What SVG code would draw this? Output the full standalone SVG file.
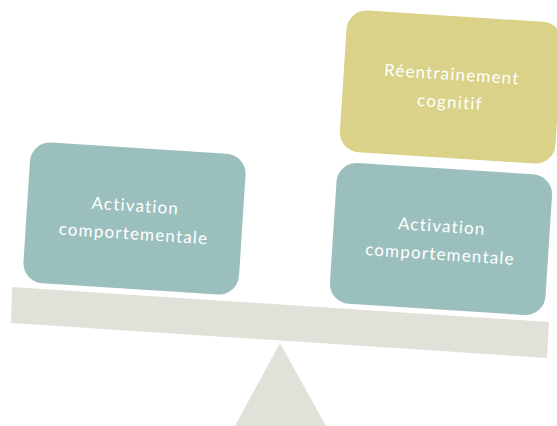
<svg xmlns="http://www.w3.org/2000/svg" width="557" height="426" viewBox="0 0 557 426">
<style>
.box{stroke:none}
.teal{fill:#9bbfbd}
.olive{fill:#d9d288}
.lbl{fill:#ffffff;font-family:Lato,"Open Sans",sans-serif;font-size:17px;text-anchor:middle;letter-spacing:1.2px}
.scale{fill:#e1e1d9}
</style>
<rect width="557" height="426" fill="#ffffff"/>
<g id="fulcrum"><polygon class="scale" points="280,343 235,426 326,426"/></g>
<g id="beam"><polygon class="scale" points="12,287 549,322 547,358 11,323"/></g>
<g id="left-box" transform="translate(134.5,218.5) rotate(3.7)">
<rect class="box teal" x="-108" y="-70.5" width="216" height="141" rx="20"/>
<text class="lbl" x="0" y="-7">Activation</text>
<text class="lbl" x="0" y="21">comportementale</text>
</g>
<g id="right-box" transform="translate(441,239) rotate(3.7)">
<rect class="box teal" x="-108" y="-70.5" width="216" height="141" rx="20"/>
<text class="lbl" x="0" y="-7">Activation</text>
<text class="lbl" x="0" y="21">comportementale</text>
</g>
<g id="top-box" transform="translate(451,87) rotate(3.7)">
<rect class="box olive" x="-108" y="-71" width="216" height="142" rx="20"/>
<text class="lbl" x="0" y="-7">Réentrainement</text>
<text class="lbl" x="0" y="21">cognitif</text>
</g>
<g id="connectors"></g>
</svg>
